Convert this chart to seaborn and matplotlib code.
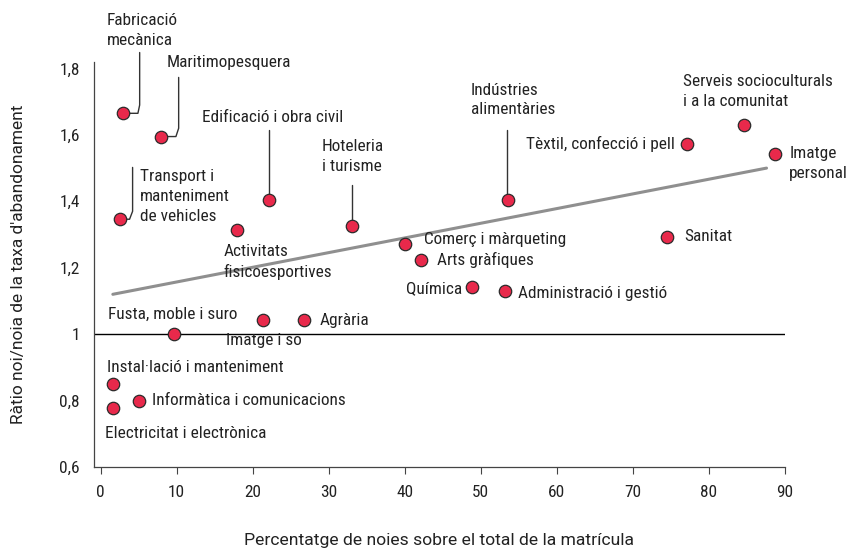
import matplotlib
matplotlib.use("Agg")
import matplotlib.pyplot as plt
from matplotlib import font_manager
import seaborn as sns
import pandas as pd

# === data ===
families = [
    "Fabricació mecànica", "Maritimopesquera", "Transport i manteniment de vehicles",
    "Edificació i obra civil", "Activitats fisicoesportives", "Hoteleria i turisme",
    "Indústries alimentàries", "Tèxtil, confecció i pell", "Serveis socioculturals i a la comunitat",
    "Imatge personal", "Sanitat", "Comerç i màrqueting", "Arts gràfiques", "Química",
    "Administració i gestió", "Fusta, moble i suro", "Imatge i so", "Agrària",
    "Instal·lació i manteniment", "Informàtica i comunicacions", "Electricitat i electrònica",
]
pct_girls = [2.9, 8.0, 2.5, 22.2, 17.9, 33.0, 53.6, 77.2, 84.7, 88.7, 74.5,
             40.1, 42.2, 48.9, 53.2, 9.7, 21.3, 26.8, 1.6, 5.0, 1.6]
ratio = [1.665, 1.595, 1.346, 1.403, 1.313, 1.325, 1.403, 1.574, 1.629, 1.541, 1.292,
         1.271, 1.223, 1.141, 1.129, 1.0, 1.042, 1.042, 0.850, 0.800, 0.777]
trend_x = [1.6, 87.6]
trend_y = [1.12, 1.50]

df = pd.DataFrame({"family": families, "pct": pct_girls, "ratio": ratio})
trend = pd.DataFrame({"x": trend_x, "y": trend_y})

# === style ===
sns.set_theme(style="white")
available = {f.name for f in font_manager.fontManager.ttflist}
font = "Roboto Condensed" if "Roboto Condensed" in available else "Roboto"
plt.rcParams["font.family"] = [font, "DejaVu Sans"]
text_color = "#222222"
fs = 12.4

fig = plt.figure(figsize=(8.53, 5.52), dpi=100)
ax = fig.add_axes([0.110, 0.154, 0.810, 0.734])

sns.lineplot(data=trend, x="x", y="y", color="#8f8f8f", linewidth=2.2, ax=ax, zorder=2)
ax.axhline(1.0, color="black", linewidth=1.0, zorder=1)
sns.scatterplot(data=df, x="pct", y="ratio", color="#e8294b", edgecolor="#2b2b2b",
                linewidth=0.9, s=80, ax=ax, zorder=4, clip_on=False)

# leader lines (data coordinates)
leaders = [
    [(5.13, 1.848), (5.13, 1.69), (4.9, 1.665), (2.9, 1.665)],
    [(10.26, 1.773), (10.26, 1.62), (9.9, 1.595), (8.0, 1.595)],
    [(4.2, 1.502), (4.2, 1.37), (3.8, 1.346), (2.5, 1.346)],
    [(22.2, 1.614), (22.2, 1.403)],
    [(33.1, 1.448), (33.1, 1.325)],
    [(53.5, 1.614), (53.5, 1.403)],
]
for pts in leaders:
    xs, ys = zip(*pts)
    ax.plot(xs, ys, color="#333333", linewidth=1.0, zorder=3, clip_on=False)

# point labels
labels = [
    ("Fabricació\nmecànica", 0.79, 1.914, "left"),
    ("Maritimopesquera", 8.68, 1.818, "left"),
    ("Edificació i obra civil", 13.29, 1.653, "left"),
    ("Hoteleria\ni turisme", 29.08, 1.534, "left"),
    ("Transport i\nmanteniment\nde vehicles", 5.13, 1.415, "left"),
    ("Indústries\nalimentàries", 48.68, 1.705, "left"),
    ("Activitats\nfisicoesportives", 16.18, 1.218, "left"),
    ("Serveis socioculturals\ni a la comunitat", 76.58, 1.731, "left"),
    ("Tèxtil, confecció i pell", 75.53, 1.574, "right"),
    ("Imatge\npersonal", 90.6, 1.513, "left"),
    ("Sanitat", 76.84, 1.295, "left"),
    ("Comerç i màrqueting", 42.5, 1.286, "left"),
    ("Arts gràfiques", 44.2, 1.223, "left"),
    ("Química", 47.5, 1.138, "right"),
    ("Administració i gestió", 54.87, 1.123, "left"),
    ("Fusta, moble i suro", 0.92, 1.060, "left"),
    ("Imatge i so", 16.45, 0.982, "left"),
    ("Agrària", 28.82, 1.042, "left"),
    ("Instal·lació i manteniment", 0.79, 0.901, "left"),
    ("Informàtica i comunicacions", 6.71, 0.800, "left"),
    ("Electricitat i electrònica", 0.53, 0.702, "left"),
]
for txt, x, y, ha in labels:
    ax.text(x, y, txt, ha=ha, va="center", fontsize=fs, color=text_color,
            linespacing=1.4, zorder=5)

# axes
ax.set_xlim(-0.9, 90)
ax.set_ylim(0.6, 1.82)
ax.set_xticks(range(0, 91, 10))
ax.set_yticks([0.6, 0.8, 1.0, 1.2, 1.4, 1.6, 1.8])
ax.set_yticklabels(["0,6", "0,8", "1", "1,2", "1,4", "1,6", "1,8"])
ax.set_yticks([0.6, 1.0, 1.8], minor=True)
ax.tick_params(axis="x", length=5, width=0.8, color="#444444", labelsize=fs,
               labelcolor=text_color, pad=8, bottom=True)
ax.tick_params(axis="y", which="major", length=0, labelsize=fs, labelcolor=text_color, pad=10)
ax.tick_params(axis="y", which="minor", length=4, width=0.8, color="#444444", left=True)
for side in ["top", "right"]:
    ax.spines[side].set_visible(False)
for side in ["left", "bottom"]:
    ax.spines[side].set_color("#444444")
    ax.spines[side].set_linewidth(0.9)

ax.set_xlabel("Percentatge de noies sobre el total de la matrícula", fontsize=12.6,
              family=["Roboto", "DejaVu Sans"], color=text_color, labelpad=24)
ax.set_ylabel("Ràtio noi/noia de la taxa d'abandonament", fontsize=12.5,
              family=["Roboto", "DejaVu Sans"], color=text_color, labelpad=24)

fig.savefig("out.png", dpi=100)
